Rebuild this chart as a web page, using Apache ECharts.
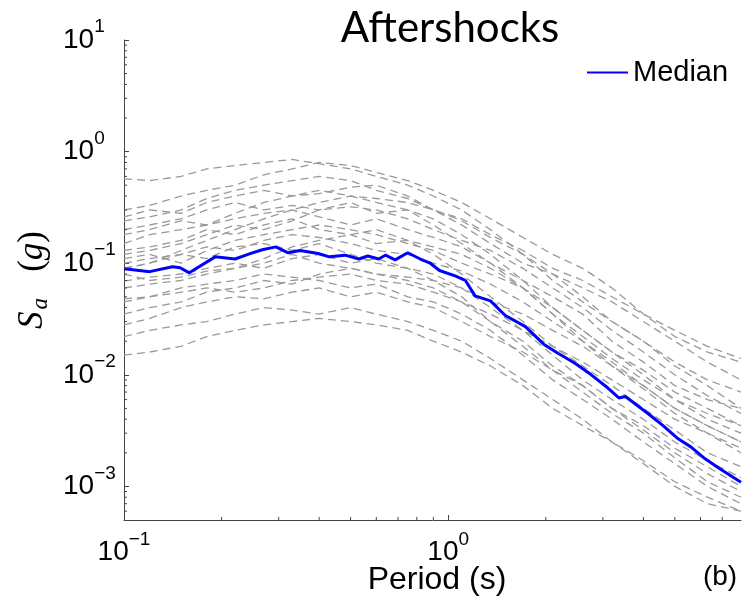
<!DOCTYPE html>
<html>
<head>
<meta charset="utf-8">
<script src="https://cdn.jsdelivr.net/npm/echarts@6/dist/echarts.min.js"></script>
<style>
  html, body { margin: 0; padding: 0; background: #fff; }
  #main { width: 746px; height: 601px; }
</style>
</head>
<body>
<div id="main"></div>
<script>
// periods (s) shared by the individual aftershock records
var periods = [0.1, 0.12, 0.15, 0.18, 0.22, 0.27, 0.33, 0.4, 0.5, 0.6, 0.75, 0.9, 1.1, 1.35, 1.7, 2.1, 2.6, 3.2, 4, 5, 6.3, 8];

// individual records, Sa (g)
var rec1  = [0.57, 0.55, 0.6, 0.7, 0.75, 0.8, 0.85, 0.78, 0.7, 0.6, 0.5, 0.4, 0.3, 0.2, 0.12, 0.07, 0.045, 0.03, 0.02, 0.012, 0.008, 0.005];
var rec2  = [0.30, 0.33, 0.4, 0.45, 0.5, 0.62, 0.7, 0.8, 0.75, 0.65, 0.55, 0.45, 0.35, 0.25, 0.17, 0.12, 0.09, 0.06, 0.035, 0.022, 0.016, 0.013];
var rec3  = [0.26, 0.3, 0.28, 0.35, 0.4, 0.45, 0.4, 0.42, 0.48, 0.5, 0.4, 0.3, 0.22, 0.15, 0.1, 0.08, 0.06, 0.045, 0.03, 0.02, 0.013, 0.009];
var rec4  = [0.20, 0.22, 0.25, 0.3, 0.35, 0.3, 0.33, 0.3, 0.35, 0.28, 0.3, 0.25, 0.18, 0.12, 0.07, 0.04, 0.025, 0.016, 0.01, 0.006, 0.004, 0.003];
var rec5  = [0.15, 0.18, 0.2, 0.22, 0.25, 0.28, 0.3, 0.26, 0.22, 0.25, 0.2, 0.17, 0.14, 0.1, 0.07, 0.05, 0.035, 0.02, 0.013, 0.008, 0.006, 0.005];
var rec6  = [0.13, 0.14, 0.16, 0.2, 0.18, 0.22, 0.25, 0.2, 0.18, 0.15, 0.16, 0.12, 0.08, 0.05, 0.03, 0.018, 0.012, 0.008, 0.005, 0.0032, 0.002, 0.0015];
var rec7  = [0.11, 0.12, 0.1, 0.13, 0.16, 0.18, 0.2, 0.22, 0.2, 0.18, 0.15, 0.13, 0.1, 0.08, 0.06, 0.04, 0.025, 0.016, 0.011, 0.007, 0.005, 0.0035];
var rec8  = [0.09, 0.1, 0.12, 0.11, 0.14, 0.15, 0.13, 0.15, 0.12, 0.1, 0.09, 0.08, 0.06, 0.04, 0.025, 0.015, 0.009, 0.006, 0.004, 0.0025, 0.0017, 0.0012];
var rec9  = [0.069, 0.075, 0.08, 0.09, 0.1, 0.09, 0.11, 0.12, 0.1, 0.11, 0.09, 0.07, 0.05, 0.03, 0.018, 0.011, 0.007, 0.0045, 0.003, 0.0018, 0.0011, 0.0008];
var rec10 = [0.048, 0.05, 0.06, 0.065, 0.07, 0.08, 0.075, 0.07, 0.06, 0.065, 0.05, 0.045, 0.035, 0.025, 0.015, 0.009, 0.006, 0.004, 0.0025, 0.0016, 0.001, 0.0007];
var rec11 = [0.028, 0.032, 0.04, 0.045, 0.05, 0.048, 0.055, 0.06, 0.05, 0.055, 0.045, 0.04, 0.03, 0.022, 0.016, 0.011, 0.008, 0.005, 0.0035, 0.0022, 0.0015, 0.001];
var rec12 = [0.022, 0.025, 0.028, 0.03, 0.035, 0.04, 0.038, 0.035, 0.04, 0.035, 0.03, 0.025, 0.02, 0.014, 0.009, 0.006, 0.004, 0.0025, 0.0017, 0.0011, 0.0008, 0.0006];
var rec13 = [0.015, 0.016, 0.018, 0.022, 0.025, 0.028, 0.03, 0.032, 0.03, 0.028, 0.025, 0.02, 0.016, 0.012, 0.008, 0.005, 0.0035, 0.0025, 0.0016, 0.001, 0.0007, 0.0006];
var rec14 = [0.09, 0.1, 0.13, 0.16, 0.2, 0.25, 0.3, 0.35, 0.4, 0.38, 0.35, 0.3, 0.25, 0.18, 0.13, 0.09, 0.07, 0.05, 0.035, 0.025, 0.018, 0.014];
var rec15 = [0.18, 0.2, 0.24, 0.22, 0.28, 0.35, 0.4, 0.45, 0.4, 0.35, 0.3, 0.22, 0.15, 0.1, 0.06, 0.035, 0.022, 0.014, 0.009, 0.006, 0.0045, 0.0035];
var rec16 = [0.06, 0.065, 0.07, 0.08, 0.09, 0.11, 0.14, 0.16, 0.18, 0.2, 0.16, 0.14, 0.12, 0.09, 0.06, 0.035, 0.02, 0.013, 0.008, 0.005, 0.0035, 0.0025];
var rec17 = [0.12, 0.13, 0.15, 0.18, 0.22, 0.2, 0.24, 0.3, 0.32, 0.3, 0.25, 0.2, 0.16, 0.13, 0.09, 0.06, 0.04, 0.025, 0.016, 0.01, 0.0065, 0.0045];
var rec18 = [0.035, 0.04, 0.045, 0.055, 0.06, 0.07, 0.065, 0.08, 0.09, 0.08, 0.07, 0.06, 0.045, 0.03, 0.02, 0.012, 0.008, 0.005, 0.0032, 0.002, 0.0013, 0.0009];
var rec19 = [0.08, 0.07, 0.075, 0.085, 0.09, 0.1, 0.12, 0.1, 0.09, 0.08, 0.075, 0.07, 0.06, 0.045, 0.035, 0.025, 0.018, 0.012, 0.008, 0.005, 0.0035, 0.0025];
var rec20 = [0.24, 0.26, 0.3, 0.38, 0.45, 0.5, 0.55, 0.6, 0.55, 0.45, 0.38, 0.3, 0.24, 0.17, 0.12, 0.08, 0.05, 0.03, 0.02, 0.013, 0.009, 0.007];
var rec21 = [0.1, 0.11, 0.12, 0.14, 0.13, 0.16, 0.18, 0.17, 0.15, 0.13, 0.12, 0.1, 0.085, 0.065, 0.045, 0.03, 0.02, 0.012, 0.0075, 0.0045, 0.003, 0.002];
var rec22 = [0.045, 0.05, 0.055, 0.06, 0.055, 0.06, 0.07, 0.075, 0.08, 0.07, 0.065, 0.055, 0.045, 0.035, 0.025, 0.018, 0.013, 0.009, 0.006, 0.004, 0.003, 0.0022];

// median spectrum
var medianPeriods = [0.1, 0.12, 0.141, 0.149, 0.159, 0.191, 0.22, 0.245, 0.267, 0.294, 0.321, 0.349, 0.397, 0.43, 0.481, 0.53, 0.565, 0.61, 0.64, 0.686, 0.75, 0.82, 0.88, 0.94, 1.05, 1.13, 1.21, 1.35, 1.5, 1.73, 1.97, 2.18, 2.46, 2.75, 3.06, 3.36, 3.52, 4.13, 4.6, 5.12, 5.6, 6.15, 6.9, 8];
var medianSa = [0.089, 0.084, 0.093, 0.091, 0.082, 0.114, 0.109, 0.122, 0.132, 0.14, 0.124, 0.13, 0.122, 0.114, 0.118, 0.109, 0.116, 0.109, 0.118, 0.107, 0.124, 0.109, 0.1, 0.086, 0.077, 0.07, 0.051, 0.046, 0.034, 0.027, 0.0188, 0.0156, 0.0127, 0.0101, 0.0079, 0.0062, 0.0064, 0.0045, 0.0035, 0.00267, 0.00226, 0.0018, 0.00143, 0.00109];

var records = [rec1, rec2, rec3, rec4, rec5, rec6, rec7, rec8, rec9, rec10, rec11, rec12, rec13, rec14, rec15, rec16, rec17, rec18, rec19, rec20, rec21, rec22];

var xMin = 0.1, xMax = 8, yMin = 5e-4, yMax = 10;

// minor tick positions (2..9 per decade)
var xMinor = [], yMinor = [];
[0.1, 1].forEach(function (d) {
    for (var k = 2; k <= 9; k++) {
        var v = +(d * k).toPrecision(3);
        if (v < xMax) xMinor.push([v, yMin]);
    }
});
[1e-4, 1e-3, 1e-2, 1e-1, 1].forEach(function (d) {
    for (var k = 2; k <= 9; k++) {
        var v = +(d * k).toPrecision(3);
        if (v > yMin && v < yMax) yMinor.push([xMin, v]);
    }
});

function powLabel(v) {
    var e = Math.log10(v);
    var r = Math.round(e);
    if (Math.abs(e - r) > 1e-6) return '';
    return '{b|10}{s|' + (r < 0 ? '\u2212' + (-r) : r) + '}';
}
var labelRich = {
    b: { fontSize: 28, fontFamily: 'Liberation Sans', color: '#000' },
    s: { fontSize: 19, fontFamily: 'Liberation Sans', color: '#000', padding: [0, 0, 26, 0] }
};

var axisColor = '#444';
var chart = echarts.init(document.getElementById('main'));

var seriesData = [];
records.forEach(function (rec, i) {
    seriesData.push({
        name: 'rec' + (i + 1),
        type: 'line',
        data: periods.map(function (p, j) { return [p, rec[j]]; }),
        showSymbol: false,
        silent: true,
        lineStyle: { color: '#9a9a9a', width: 1.3, type: [8, 5] },
        z: 2
    });
});
seriesData.push({
    name: 'Median',
    type: 'line',
    data: medianPeriods.map(function (p, j) { return [p, medianSa[j]]; }),
    showSymbol: false,
    lineStyle: { color: '#0000ff', width: 3 },
    itemStyle: { color: '#0000ff' },
    z: 5
});
// minor ticks drawn through the axis scales
seriesData.push({
    type: 'custom',
    silent: true,
    data: xMinor,
    clip: false,
    renderItem: function (params, api) {
        var p = api.coord([api.value(0), api.value(1)]);
        return { type: 'line', shape: { x1: p[0], y1: p[1], x2: p[0], y2: p[1] - 3 }, style: { stroke: axisColor, lineWidth: 1 } };
    },
    z: 6
});
seriesData.push({
    type: 'custom',
    silent: true,
    data: yMinor,
    clip: false,
    renderItem: function (params, api) {
        var p = api.coord([api.value(0), api.value(1)]);
        return { type: 'line', shape: { x1: p[0], y1: p[1], x2: p[0] + 3, y2: p[1] }, style: { stroke: axisColor, lineWidth: 1 } };
    },
    z: 6
});

var option = {
    backgroundColor: '#fff',
    animation: false,
    grid: { left: 124, top: 40, right: 5, bottom: 81, outerBoundsMode: 'none', containLabel: false },
    legend: {
        data: ['Median'],
        left: 582,
        top: 53,
        itemWidth: 41,
        itemHeight: 14,
        itemGap: 5,
        icon: 'path://M0,6L41,6L41,8L0,8Z',
        textStyle: { fontSize: 29, fontFamily: 'Liberation Sans', color: '#000' }
    },
    xAxis: {
        type: 'log',
        logBase: 10,
        min: xMin,
        max: xMax,
        splitLine: { show: false },
        axisLine: { lineStyle: { color: axisColor, width: 1 } },
        axisTick: { inside: true, length: 5, lineStyle: { color: axisColor } },
        axisLabel: { formatter: powLabel, rich: labelRich, margin: 10, showMaxLabel: false }
    },
    yAxis: {
        type: 'log',
        logBase: 10,
        min: yMin,
        max: yMax,
        splitLine: { show: false },
        axisLine: { lineStyle: { color: axisColor, width: 1 } },
        axisTick: { inside: true, length: 5, lineStyle: { color: axisColor } },
        axisLabel: { formatter: powLabel, rich: labelRich, align: 'left', margin: 61, showMinLabel: false },
        name: '{i|S}{sub|a}{n|   (}{i|g}{n|)}',
        nameLocation: 'middle',
        nameRotate: 90,
        nameGap: 70,
        nameTextStyle: {
            rich: {
                i: { fontFamily: 'Liberation Serif', fontStyle: 'italic', fontSize: 35, color: '#000' },
                sub: { fontFamily: 'Liberation Serif', fontStyle: 'italic', fontSize: 23, color: '#000', padding: [16, 0, 0, 2] },
                n: { fontFamily: 'Liberation Serif', fontSize: 35, color: '#000' }
            }
        }
    },
    graphic: [
        { type: 'text', x: 450, y: 28, style: { text: 'Aftershocks', fontFamily: 'Lato', fontSize: 42, fill: '#000', align: 'center', verticalAlign: 'middle' } },
        { type: 'text', x: 437, y: 580, style: { text: 'Period (s)', fontFamily: 'Liberation Sans', fontSize: 32, fill: '#000', align: 'center', verticalAlign: 'middle' } },
        { type: 'text', x: 720, y: 577, style: { text: '(b)', fontFamily: 'Liberation Sans', fontSize: 28, fill: '#000', align: 'center', verticalAlign: 'middle' } }
    ],
    series: seriesData
};
option && chart.setOption(option);
</script>
</body>
</html>
